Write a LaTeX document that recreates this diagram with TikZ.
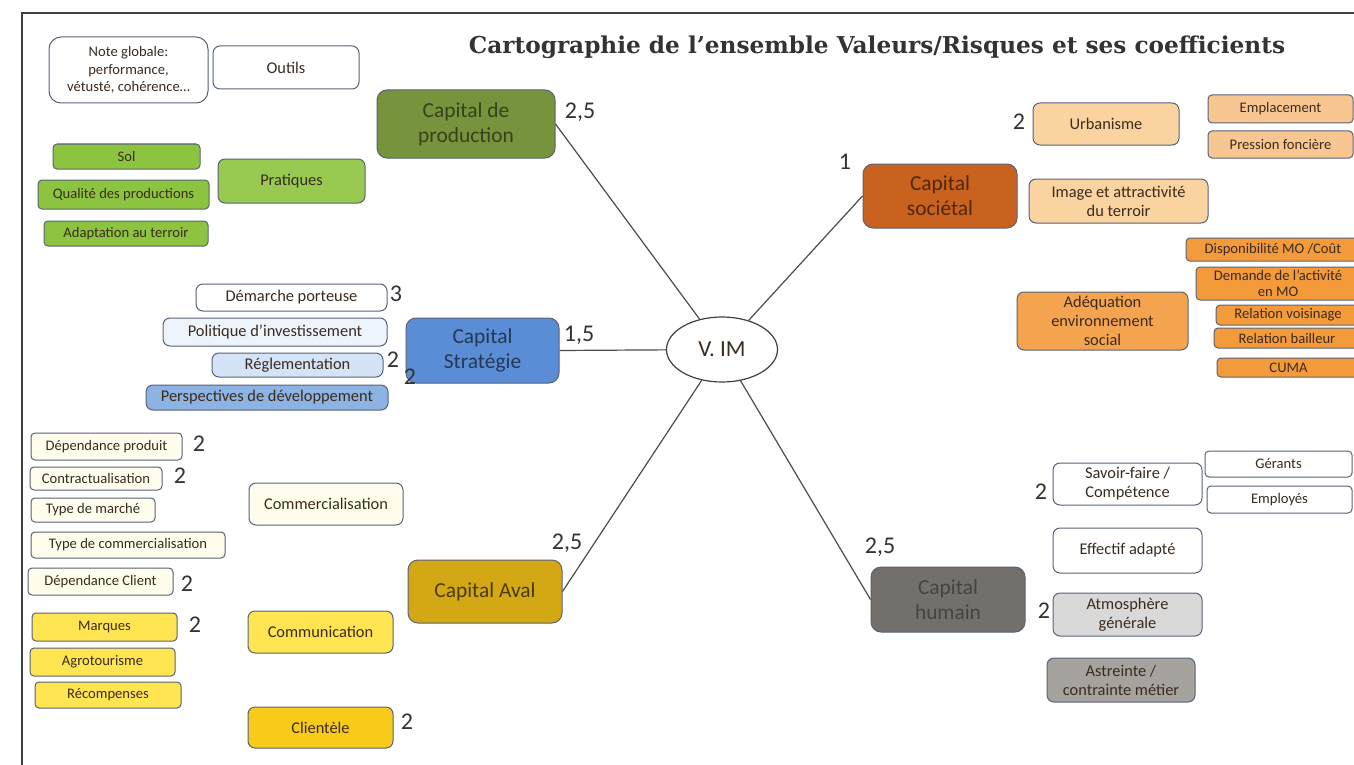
\documentclass[tikz,border=0pt]{standalone}
\usepackage{fontspec}
\setmainfont{Carlito}
\newfontfamily\titlefont{DejaVu Serif}
\usepackage{tikz}
\usetikzlibrary{shapes.geometric}

\definecolor{framegray}{HTML}{5A6278}
\definecolor{txtbrown}{HTML}{3B2B1E}
\definecolor{prodgreen}{HTML}{77933C}
\definecolor{leafgreen}{HTML}{8DC43F}
\definecolor{socorange}{HTML}{C8621E}
\definecolor{peach}{HTML}{FAD3A0}
\definecolor{peachdark}{HTML}{F8C690}
\definecolor{orangeleaf}{HTML}{F39A3B}
\definecolor{stratblue}{HTML}{5B8DD6}
\definecolor{blueone}{HTML}{EEF4FC}
\definecolor{bluetwo}{HTML}{D5E3F6}
\definecolor{bluethree}{HTML}{8DB3E2}
\definecolor{avalgold}{HTML}{D4A815}
\definecolor{cream}{HTML}{FFFDEB}
\definecolor{yellowleaf}{HTML}{FFE552}
\definecolor{yellowdark}{HTML}{F8CB1B}
\definecolor{humgray}{HTML}{73706C}
\definecolor{lightgray}{HTML}{D9D9D9}
\definecolor{midgray}{HTML}{A6A29D}

\begin{document}
\begin{tikzpicture}[x=0.5pt, y=-0.5pt]
  \tikzset{
    box/.style={rectangle, draw=framegray, line width=0.5pt, rounded corners=3.5pt, align=center, inner sep=1pt, text=txtbrown, font=\fontsize{8.2}{9.6}\selectfont},
    capital/.style={box, rounded corners=5pt, font=\fontsize{10.7}{12.6}\selectfont},
    leaf/.style={box, rounded corners=2pt, font=\fontsize{7.3}{8.6}\selectfont},
    coef/.style={inner sep=0pt, text=black!80, font=\fontsize{12}{12}\selectfont},
    sz/.style 2 args={minimum width=#1*0.5pt, minimum height=#2*0.5pt},
    link/.style={draw=black!70, line width=0.6pt}
  }
  \clip (0,0) rectangle (1354,765);
  \fill[white] (0,0) rectangle (1354,765);
  \draw[line width=0.8pt, black!75] (22,765) -- (22,13) -- (1354,13);

  \node[font=\titlefont\bfseries\fontsize{11.6}{13}\selectfont, text=black!80] (title) at (877,47) {Cartographie de l’ensemble Valeurs/Risques et ses coefficients};

  % centre
  \node[ellipse, draw=black!75, line width=0.6pt, sz={111}{65}, inner sep=0pt, text=txtbrown, font=\fontsize{11.5}{12}\selectfont] (vim) at (722,349.5) {V. IM};

  % capitaux
  \node[capital, sz={178}{68}, fill=prodgreen, text=prodgreen!45!black] (prod) at (466,124) {Capital de\\production};
  \node[capital, sz={154}{64}, fill=socorange, text=socorange!40!black] (soc) at (940,196) {Capital\\sociétal};
  \node[capital, sz={153}{65}, fill=stratblue, text=stratblue!40!black] (strat) at (482.5,350.5) {Capital\\Stratégie};
  \node[capital, sz={154}{63}, fill=avalgold, text=avalgold!35!black] (aval) at (485,591.5) {Capital Aval};
  \node[capital, sz={154}{65}, fill=humgray, text=humgray!60!black] (hum) at (948,599.5) {Capital\\humain};

  \draw[link] (vim) -- (prod.east);
  \draw[link] (vim) -- (soc.west);
  \draw[link] (vim) -- (strat.east);
  \draw[link] (vim) -- (aval.east);
  \draw[link] (vim) -- (hum.west);

  \node[coef] (cprod) at (580,112) {2,5};
  \node[coef] (csoc) at (845,162) {1};
  \node[coef] (cstrat) at (579,335) {1,5};
  \node[coef] (caval) at (567,543) {2,5};
  \node[coef] (chum) at (880,547) {2,5};

  % capital de production
  \node[box, sz={159}{66}, fill=white, rounded corners=6pt, font=\fontsize{7.3}{8.8}\selectfont] (note) at (128.5,70) {Note globale:\\performance,\\vétusté, cohérence…};
  \node[box, sz={146}{43}, fill=white] (outils) at (286,67.5) {Outils};
  \node[leaf, sz={147}{25}, fill=leafgreen] (sol) at (126.5,156.5) {Sol};
  \node[leaf, sz={171}{29}, fill=leafgreen] (qualite) at (123.5,194.5) {Qualité des productions};
  \node[leaf, sz={164}{25}, fill=leafgreen] (adapt) at (126,233.5) {Adaptation au terroir};
  \node[box, sz={147}{44}, fill=leafgreen!90!white] (pratiques) at (291.5,181) {Pratiques};

  % capital strategie
  \node[box, sz={191}{27}, fill=white] (demarche) at (291.5,297.5) {Démarche porteuse};
  \node[box, sz={224}{28}, fill=blueone] (politique) at (275,332) {Politique d’investissement};
  \node[box, sz={171}{24}, fill=bluetwo] (reglem) at (297.5,365) {Réglementation};
  \node[box, sz={242}{25}, fill=bluethree] (perspect) at (267,397.5) {Perspectives de développement};
  \node[coef] (cdemarche) at (396,294) {3};
  \node[coef] (creglem) at (393,360) {2};
  \node[coef] (cperspect) at (410,377) {2};

  % capital aval
  \node[leaf, sz={151}{27}, fill=cream] (depprod) at (106.5,446.5) {Dépendance produit};
  \node[leaf, sz={132}{23}, fill=cream] (contract) at (96,478.5) {Contractualisation};
  \node[leaf, sz={124}{24}, fill=cream] (typemarche) at (93,510) {Type de marché};
  \node[leaf, sz={194}{26}, fill=cream] (typecomm) at (128,545) {Type de commercialisation};
  \node[leaf, sz={145}{27}, fill=cream] (depclient) at (100.5,581.5) {Dépendance Client};
  \node[box, sz={154}{42}, fill=cream] (commerc) at (326,504) {Commercialisation};
  \node[leaf, sz={145}{28}, fill=yellowleaf] (marques) at (104.5,627) {Marques};
  \node[leaf, sz={145}{28}, fill=yellowleaf] (agro) at (102.5,662) {Agrotourisme};
  \node[leaf, sz={146}{26}, fill=yellowleaf] (recomp) at (108,695) {Récompenses};
  \node[box, sz={145}{42}, fill=yellowleaf] (commun) at (320.5,632) {Communication};
  \node[box, sz={145}{41}, fill=yellowdark] (client) at (320.5,727.5) {Clientèle};
  \node[coef] (cdepprod) at (199,444) {2};
  \node[coef] (ccontract) at (180,476) {2};
  \node[coef] (cdepclient) at (187,584) {2};
  \node[coef] (cmarques) at (195,625) {2};
  \node[coef] (cclient) at (407,722) {2};

  % capital societal
  \node[box, sz={146}{42}, fill=peach] (urban) at (1106,124) {Urbanisme};
  \node[leaf, sz={145}{28}, fill=peachdark] (emplac) at (1280.5,109) {Emplacement};
  \node[leaf, sz={145}{27}, fill=peachdark] (pression) at (1280.5,144.5) {Pression foncière};
  \node[box, sz={179}{44}, fill=peach] (image) at (1118.5,201) {Image et attractivité\\du terroir};
  \node[box, sz={171}{58}, fill=orangeleaf!90!white] (adequation) at (1102.5,321) {Adéquation\\environnement\\social};
  \node[leaf, sz={174}{23}, fill=orangeleaf] (dispo) at (1273,249.5) {Disponibilité MO /Coût};
  \node[leaf, sz={164}{33}, fill=orangeleaf, font=\fontsize{7.3}{8}\selectfont] (demande) at (1278,283.5) {Demande de l’activité\\en MO};
  \node[leaf, sz={144}{20}, fill=orangeleaf] (voisin) at (1288,315) {Relation voisinage};
  \node[leaf, sz={146}{20}, fill=orangeleaf] (bailleur) at (1287,338) {Relation bailleur};
  \node[leaf, sz={143}{19}, fill=orangeleaf] (cuma) at (1288.5,367.5) {CUMA};
  \node[coef] (curban) at (1019,122) {2};

  % capital humain
  \node[box, sz={149}{42}, fill=white] (savoir) at (1127.5,484) {Savoir-faire /\\Compétence};
  \node[leaf, sz={147}{26}, fill=white] (gerants) at (1278.5,464) {Gérants};
  \node[leaf, sz={145}{27}, fill=white] (employes) at (1279.5,499.5) {Employés};
  \node[box, sz={149}{45}, fill=white] (effectif) at (1127.5,550.5) {Effectif adapté};
  \node[box, sz={149}{43}, fill=lightgray] (atmos) at (1127.5,614.5) {Atmosphère\\générale};
  \node[box, sz={148}{44}, fill=midgray] (astreinte) at (1121,680) {Astreinte /\\contrainte métier};
  \node[coef] (csavoir) at (1041,492) {2};
  \node[coef] (catmos) at (1044,611) {2};
\end{tikzpicture}
\end{document}
